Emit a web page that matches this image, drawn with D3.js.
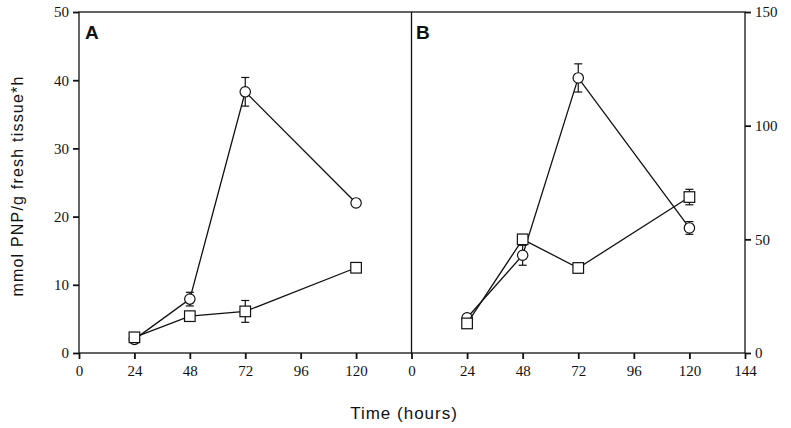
<!DOCTYPE html>
<html><head><meta charset="utf-8">
<script src="https://cdn.jsdelivr.net/npm/d3@7"></script>
<style>body{margin:0;background:#fff}svg{display:block}</style>
</head><body>
<svg id="c" width="791" height="428"></svg>
<script>
const hours = [24, 48, 72, 120];
const xTicks = [0, 24, 48, 72, 96, 120];
const xTicksB = [0, 24, 48, 72, 96, 120, 144];
const yTicksA = [0, 10, 20, 30, 40, 50];
const yTicksB = [0, 50, 100, 150];
// Panel A (left axis, 0-50)
const aCircle = [2.0, 7.9, 38.3, 22.0];
const aCircleErr = [0, 1.0, 2.1, 0];
const aSquare = [2.3, 5.4, 6.1, 12.5];
const aSquareErr = [0, 0, 1.6, 0];
// Panel B (right axis, 0-150)
const bCircle = [15.5, 43.0, 121.0, 55.0];
const bCircleErr = [0, 4.4, 6.2, 2.8];
const bSquare = [13.0, 50.0, 37.4, 68.6];
const bSquareErr = [0, 0, 0, 3.4];

const svg = d3.select("#c");
const plotTop = 12, plotBottom = 353;
const xA = d3.scaleLinear().domain([0, 144]).range([79, 411.5]);
const xB = d3.scaleLinear().domain([0, 144]).range([411.5, 745]);
const yA = d3.scaleLinear().domain([0, 50]).range([plotBottom, plotTop]);
const yB = d3.scaleLinear().domain([0, 150]).range([plotBottom, plotTop]);
const ink = "#111";
const serif = "'Liberation Serif','Times New Roman','DejaVu Serif',serif";

// frame
svg.append("rect").attr("x", 79).attr("y", plotTop).attr("width", 745 - 79).attr("height", plotBottom - plotTop)
  .attr("fill", "none").attr("stroke", ink).attr("stroke-width", 1.3);
svg.append("line").attr("x1", 411.5).attr("x2", 411.5).attr("y1", plotTop).attr("y2", plotBottom)
  .attr("stroke", ink).attr("stroke-width", 1.3);

function styleAxis(g) {
  g.attr("font-family", serif).attr("font-size", 15);
  g.selectAll(".domain").remove();
  g.selectAll(".tick line").attr("stroke", ink).attr("stroke-width", 1.8);
  g.selectAll(".tick text").attr("fill", ink).style("font-family", serif).style("font-size", "15px");
}
svg.append("g").attr("transform", `translate(0,${plotBottom})`)
  .call(d3.axisBottom(xA).tickValues(xTicks).tickSize(6).tickPadding(6)).call(styleAxis);
svg.append("g").attr("transform", `translate(0,${plotBottom})`)
  .call(d3.axisBottom(xB).tickValues(xTicksB).tickSize(6).tickPadding(6)).call(styleAxis);
svg.append("g").attr("transform", `translate(79,0)`)
  .call(d3.axisLeft(yA).tickValues(yTicksA).tickSize(6).tickPadding(4)).call(styleAxis);
svg.append("g").attr("transform", `translate(745,0)`)
  .call(d3.axisRight(yB).tickValues(yTicksB).tickSize(6).tickPadding(4)).call(styleAxis);

function series(x, y, vals, errs, shape) {
  const g = svg.append("g");
  const line = d3.line().x((d, i) => x(hours[i])).y(d => y(d));
  g.append("path").attr("d", line(vals)).attr("fill", "none").attr("stroke", ink).attr("stroke-width", 1.3);
  vals.forEach((v, i) => {
    const e = errs[i];
    if (e > 0) {
      const cx = x(hours[i]);
      g.append("line").attr("x1", cx).attr("x2", cx).attr("y1", y(v - e)).attr("y2", y(v + e)).attr("stroke", ink).attr("stroke-width", 1.2);
      [v - e, v + e].forEach(w => g.append("line").attr("x1", cx - 4).attr("x2", cx + 4).attr("y1", y(w)).attr("y2", y(w)).attr("stroke", ink).attr("stroke-width", 1.2));
    }
  });
  vals.forEach((v, i) => {
    const cx = x(hours[i]), cy = y(v);
    if (shape === "circle") {
      g.append("circle").attr("cx", cx).attr("cy", cy).attr("r", 5.2).attr("fill", "#fff").attr("stroke", ink).attr("stroke-width", 1.2);
    } else {
      g.append("rect").attr("x", cx - 5.3).attr("y", cy - 5.3).attr("width", 10.6).attr("height", 10.6).attr("fill", "#fff").attr("stroke", ink).attr("stroke-width", 1.2);
    }
  });
}
series(xA, yA, aCircle, aCircleErr, "circle");
series(xA, yA, aSquare, aSquareErr, "square");
series(xB, yB, bCircle, bCircleErr, "circle");
series(xB, yB, bSquare, bSquareErr, "square");

const sans = "'Liberation Sans', Arial, Helvetica, sans-serif";
svg.append("text").attr("x", 85).attr("y", 39).attr("font-family", sans).attr("font-weight", "bold").attr("font-size", 19).attr("fill", ink).text("A");
svg.append("text").attr("x", 416).attr("y", 39).attr("font-family", sans).attr("font-weight", "bold").attr("font-size", 19).attr("fill", ink).text("B");
svg.append("text").attr("x", 404).attr("y", 419).attr("text-anchor", "middle").attr("font-family", sans).attr("font-size", 17).attr("letter-spacing", 1).attr("fill", ink).text("Time (hours)");
svg.append("text").attr("transform", "translate(23,186) rotate(-90)").attr("text-anchor", "middle").attr("font-family", sans).attr("font-size", 16).attr("letter-spacing", 1.2).attr("fill", ink).text("mmol PNP/g fresh tissue*h");
</script>
</body></html>
